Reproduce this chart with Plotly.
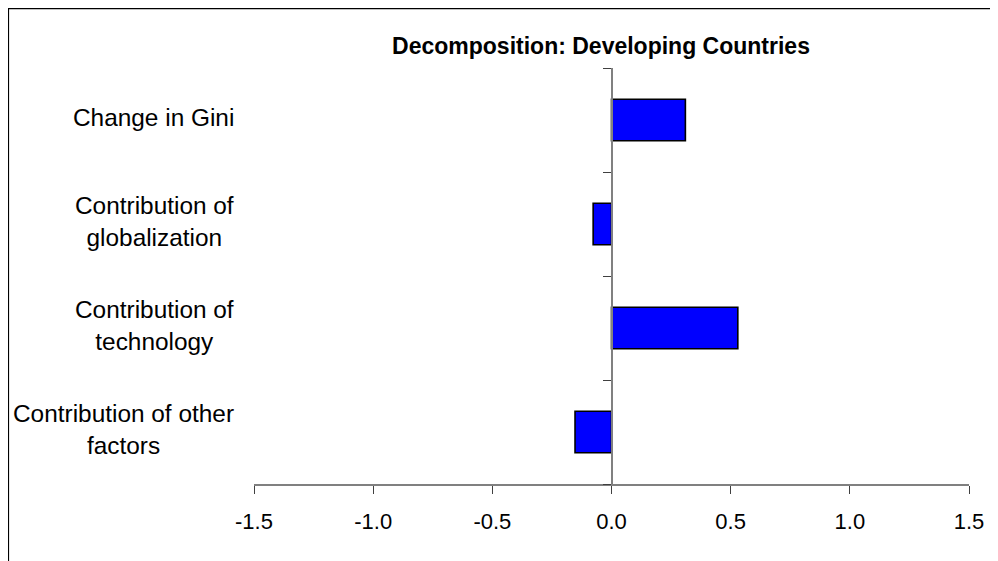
import plotly.graph_objects as go

# ---- data ----
categories = [
    "Change in Gini",
    "Contribution of<br>globalization",
    "Contribution of<br>technology",
    "Contribution of other<br>factors",
]
values = [0.31, -0.077, 0.53, -0.153]
x_tickvals = [-1.5, -1.0, -0.5, 0.0, 0.5, 1.0, 1.5]
x_ticktext = ["-1.5", "-1.0", "-0.5", "0.0", "0.5", "1.0", "1.5"]
title_text = "Decomposition: Developing Countries"

FONT = "Arial, 'Liberation Sans', sans-serif"
# page body has an 8px margin, so the figure is sized/positioned to compensate
W, H = 990, 553
ML, MR, MT, MB = 246.3, 29.3, 60.3, 77.3
XMIN, XMAX = -1.5, 1.5

fig = go.Figure()
fig.add_trace(go.Bar(
    x=values,
    y=list(range(len(categories))),
    orientation="h",
    width=0.4,
    marker=dict(color="#0000FF", line=dict(color="#000000", width=1.6)),
    hoverinfo="x",
))

# category labels as centered multi-line text to the left of the plot area
annotations = []
for i, cat in enumerate(categories):
    annotations.append(dict(
        text=cat, x=0, xref="paper", y=i, yref="y",
        xanchor="right", yanchor="middle", align="center",
        xshift=-18, yshift=3, showarrow=False,
        font=dict(family=FONT, size=24.4, color="#000000"),
    ))

pw = W - ML - MR
ph = H - MT - MB
# outer chart border (partly cropped at the right and bottom)
bx0 = (0.8 - ML) / pw
by1 = 1 + (MT - 0.8) / ph
shapes = [dict(type="rect", xref="paper", yref="paper",
               x0=bx0, x1=1.2, y0=-0.5, y1=by1,
               line=dict(color="#000000", width=1.6), fillcolor="rgba(0,0,0,0)", layer="below")]

fig.update_layout(
    width=W, height=H,
    margin=dict(l=ML, r=MR, t=MT, b=MB, pad=0),
    paper_bgcolor="white", plot_bgcolor="white",
    showlegend=False,
    title=dict(text="<b>" + title_text + "</b>", x=593 / W, xref="container",
               y=1 - 38 / H, yref="container", xanchor="center", yanchor="middle",
               font=dict(family=FONT, size=23, color="#000000")),
    xaxis=dict(range=[XMIN, XMAX], tickvals=x_tickvals, ticktext=x_ticktext,
               showgrid=False, zeroline=False, showline=True, linecolor="#808080", linewidth=1.5,
               ticks="outside", ticklen=8, tickcolor="#404040", tickwidth=1,
               ticklabelstandoff=9,
               tickfont=dict(family=FONT, size=22, color="#000000")),
    yaxis=dict(range=[len(categories) - 0.5, -0.5], showgrid=False, zeroline=False,
               showline=True, linecolor="#808080", linewidth=1.5,
               anchor="free", position=(0 - XMIN) / (XMAX - XMIN),
               tickvals=[i - 0.5 for i in range(len(categories) + 1)],
               showticklabels=False, ticks="outside", ticklen=8, tickcolor="#404040", tickwidth=1),
    annotations=annotations,
    shapes=shapes,
)

fig.write_html("out.html")
